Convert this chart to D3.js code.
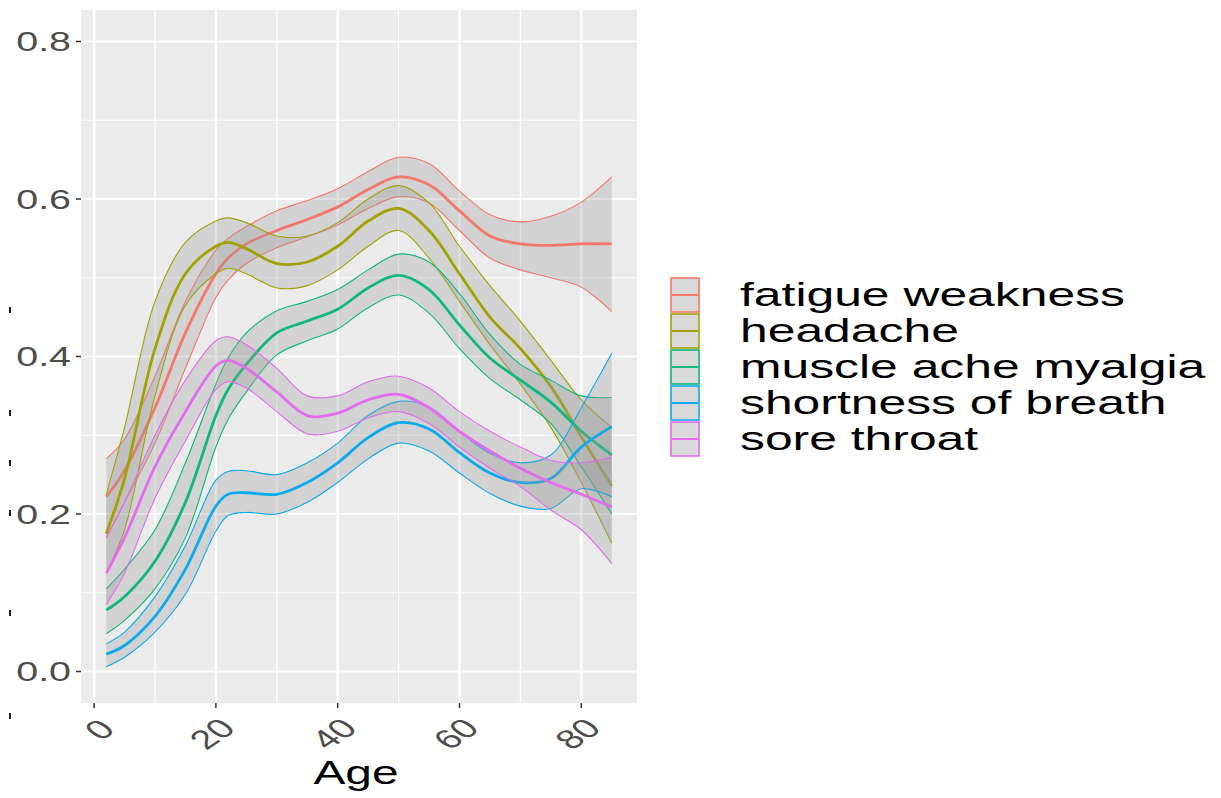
<!DOCTYPE html>
<html>
<head>
  <meta charset="utf-8">
  <title>Symptoms by age</title>
  <script src="https://cdn.jsdelivr.net/npm/d3@7"></script>
  <style>
    body { margin: 0; background: #ffffff; }
    text { font-family: "Liberation Sans", Arial, sans-serif; }
    .tick-label { fill: #4d4d4d; font-size: 27px; }
    .legend-label { fill: #000000; font-size: 33px; }
    .axis-title { fill: #000000; font-size: 33px; }
  </style>
</head>
<body>
<script>
// Symptom names and colours (ggplot hue palette)
var symptoms = ["fatigue weakness", "headache", "muscle ache myalgia", "shortness of breath", "sore throat"];
var colors = ["#F3776B", "#A0A200", "#0DB87B", "#0AAAEC", "#E26BEE"];

var ages = [2, 5, 10, 15, 20, 22, 25, 30, 35, 40, 45, 50, 55, 60, 65, 70, 75, 80, 85];

// Fitted value, upper and lower band for each symptom
var fatigueFit = [0.222, 0.255, 0.335, 0.43, 0.505, 0.525, 0.543, 0.56, 0.574, 0.59, 0.612, 0.628, 0.618, 0.585, 0.553, 0.543, 0.541, 0.543, 0.543];
var fatigueHi  = [0.27, 0.295, 0.375, 0.47, 0.535, 0.55, 0.565, 0.585, 0.598, 0.613, 0.635, 0.653, 0.645, 0.61, 0.58, 0.571, 0.578, 0.596, 0.628];
var fatigueLo  = [0.17, 0.215, 0.29, 0.385, 0.475, 0.497, 0.518, 0.538, 0.552, 0.567, 0.588, 0.603, 0.595, 0.56, 0.525, 0.51, 0.5, 0.488, 0.457];

var headacheFit = [0.175, 0.245, 0.41, 0.505, 0.54, 0.545, 0.537, 0.518, 0.52, 0.54, 0.572, 0.588, 0.56, 0.505, 0.45, 0.41, 0.362, 0.298, 0.236];
var headacheHi  = [0.225, 0.31, 0.47, 0.545, 0.572, 0.576, 0.57, 0.553, 0.553, 0.57, 0.6, 0.617, 0.595, 0.54, 0.49, 0.445, 0.395, 0.345, 0.31];
var headacheLo  = [0.125, 0.18, 0.35, 0.465, 0.505, 0.512, 0.505, 0.487, 0.49, 0.51, 0.54, 0.56, 0.525, 0.47, 0.415, 0.365, 0.31, 0.24, 0.163];

var muscleFit = [0.078, 0.095, 0.14, 0.215, 0.325, 0.358, 0.39, 0.43, 0.445, 0.46, 0.487, 0.503, 0.485, 0.44, 0.398, 0.37, 0.342, 0.305, 0.275];
var muscleHi  = [0.105, 0.13, 0.18, 0.265, 0.365, 0.398, 0.43, 0.458, 0.47, 0.485, 0.51, 0.53, 0.52, 0.48, 0.428, 0.39, 0.37, 0.35, 0.348];
var muscleLo  = [0.048, 0.065, 0.105, 0.17, 0.285, 0.32, 0.355, 0.402, 0.42, 0.435, 0.462, 0.478, 0.455, 0.41, 0.372, 0.345, 0.315, 0.26, 0.2];

var breathFit = [0.022, 0.033, 0.07, 0.13, 0.21, 0.225, 0.227, 0.225, 0.24, 0.265, 0.297, 0.316, 0.308, 0.278, 0.252, 0.24, 0.245, 0.285, 0.311];
var breathHi  = [0.035, 0.05, 0.095, 0.16, 0.243, 0.254, 0.255, 0.25, 0.265, 0.29, 0.325, 0.343, 0.336, 0.305, 0.277, 0.265, 0.275, 0.335, 0.404];
var breathLo  = [0.006, 0.018, 0.05, 0.098, 0.178, 0.198, 0.202, 0.2, 0.215, 0.24, 0.27, 0.29, 0.28, 0.252, 0.226, 0.21, 0.207, 0.232, 0.222];

var throatFit = [0.125, 0.17, 0.26, 0.33, 0.388, 0.395, 0.385, 0.355, 0.325, 0.328, 0.345, 0.352, 0.335, 0.305, 0.28, 0.258, 0.24, 0.225, 0.209];
var throatHi  = [0.17, 0.215, 0.3, 0.37, 0.42, 0.425, 0.415, 0.385, 0.35, 0.35, 0.368, 0.375, 0.36, 0.33, 0.305, 0.285, 0.268, 0.265, 0.272];
var throatLo  = [0.085, 0.125, 0.22, 0.293, 0.358, 0.368, 0.36, 0.33, 0.302, 0.305, 0.322, 0.33, 0.315, 0.285, 0.258, 0.235, 0.205, 0.18, 0.137];

var fits = [fatigueFit, headacheFit, muscleFit, breathFit, throatFit];
var highs = [fatigueHi, headacheHi, muscleHi, breathHi, throatHi];
var lows = [fatigueLo, headacheLo, muscleLo, breathLo, throatLo];

// Axis ticks
var xTicks = [0, 20, 40, 60, 80];
var xMinor = [10, 30, 50, 70];
var yTicks = [0, 0.2, 0.4, 0.6, 0.8];
var yMinor = [0.1, 0.3, 0.5, 0.7];

// The picture is stretched sideways, so text is widened too
var stretch = 1.46;

var svg = d3.select("body").append("svg")
    .attr("width", 1221)
    .attr("height", 798);

var panel = {left: 81, right: 637, top: 10, bottom: 703};

var x = d3.scaleLinear().domain([-2.15, 89.15]).range([panel.left, panel.right]);
var y = d3.scaleLinear().domain([-0.04, 0.84]).range([panel.bottom, panel.top]);

// Panel background and grid
svg.append("rect")
    .attr("x", panel.left).attr("y", panel.top)
    .attr("width", panel.right - panel.left)
    .attr("height", panel.bottom - panel.top)
    .attr("fill", "#ebebeb");

var grid = svg.append("g").attr("stroke", "#ffffff");
grid.selectAll(".ymin").data(yMinor).enter().append("line")
    .attr("x1", panel.left).attr("x2", panel.right)
    .attr("y1", d => y(d)).attr("y2", d => y(d))
    .attr("stroke-width", 1);
grid.selectAll(".xmin").data(xMinor).enter().append("line")
    .attr("y1", panel.top).attr("y2", panel.bottom)
    .attr("x1", d => x(d)).attr("x2", d => x(d))
    .attr("stroke-width", 1.2);
grid.selectAll(".ymaj").data(yTicks).enter().append("line")
    .attr("x1", panel.left).attr("x2", panel.right)
    .attr("y1", d => y(d)).attr("y2", d => y(d))
    .attr("stroke-width", 2);
grid.selectAll(".xmaj").data(xTicks).enter().append("line")
    .attr("y1", panel.top).attr("y2", panel.bottom)
    .attr("x1", d => x(d)).attr("x2", d => x(d))
    .attr("stroke-width", 2.4);

// Smooth curves with bands
var curve = d3.curveCatmullRom.alpha(0.5);
var area = d3.area()
    .x((d, i) => x(ages[i]))
    .y0(d => y(d[0]))
    .y1(d => y(d[1]))
    .curve(curve);
var line = d3.line()
    .x((d, i) => x(ages[i]))
    .y(d => y(d))
    .curve(curve);

symptoms.forEach(function(name, k) {
  var band = ages.map((a, i) => [lows[k][i], highs[k][i]]);
  var g = svg.append("g");
  g.append("path")
      .attr("d", area(band))
      .attr("fill", "#999999")
      .attr("fill-opacity", 0.3);
  [highs[k], lows[k]].forEach(function(edge) {
    g.append("path")
        .attr("d", line(edge))
        .attr("fill", "none")
        .attr("stroke", colors[k])
        .attr("stroke-width", 1.1);
  });
  g.append("path")
      .attr("d", line(fits[k]))
      .attr("fill", "none")
      .attr("stroke", colors[k])
      .attr("stroke-width", 2.8);
});

// Y axis
var yAxis = svg.append("g");
yAxis.selectAll("line").data(yTicks).enter().append("line")
    .attr("x1", panel.left - 5).attr("x2", panel.left)
    .attr("y1", d => y(d)).attr("y2", d => y(d))
    .attr("stroke", "#333333").attr("stroke-width", 1.5);
yAxis.selectAll("text").data(yTicks).enter().append("text")
    .attr("class", "tick-label")
    .attr("text-anchor", "end")
    .attr("dominant-baseline", "central")
    .attr("transform", d => "translate(" + (panel.left - 10) + "," + y(d) + ") scale(" + stretch + ",1)")
    .text(d => d.toFixed(1));

// X axis
var xAxis = svg.append("g");
xAxis.selectAll("line").data(xTicks).enter().append("line")
    .attr("x1", d => x(d)).attr("x2", d => x(d))
    .attr("y1", panel.bottom).attr("y2", panel.bottom + 5)
    .attr("stroke", "#333333").attr("stroke-width", 1.5);
xAxis.selectAll("text").data(xTicks).enter().append("text")
    .attr("class", "tick-label")
    .attr("text-anchor", "middle")
    .attr("dominant-baseline", "central")
    .attr("transform", function(d) {
      var w = String(d).length * 14.5;
      return "translate(" + (x(d) + 14 - 0.62 * w) + "," + (725 + 0.3 * w) + ") scale(" + stretch + ",1) rotate(-45)";
    })
    .text(d => d);

svg.append("text")
    .attr("class", "axis-title")
    .attr("text-anchor", "middle")
    .attr("transform", "translate(" + x(43) + ",784) scale(1.45,1)")
    .text("Age");

// Legend
var keyH = 36, keyW = 30, legTop = 277, legLeft = 670;
var legend = svg.append("g");
symptoms.forEach(function(name, k) {
  var top = legTop + k * keyH;
  legend.append("rect")
      .attr("x", legLeft + 1).attr("y", top + 1)
      .attr("width", keyW - 2).attr("height", keyH - 2)
      .attr("fill", "#d9d9d9")
      .attr("stroke", colors[k]).attr("stroke-width", 1.6);
  legend.append("line")
      .attr("x1", legLeft + 2).attr("x2", legLeft + keyW - 2)
      .attr("y1", top + keyH / 2).attr("y2", top + keyH / 2)
      .attr("stroke", colors[k]).attr("stroke-width", 2);
  legend.append("text")
      .attr("class", "legend-label")
      .attr("dominant-baseline", "central")
      .attr("transform", "translate(740," + (top + keyH / 2) + ") scale(1.51,1)")
      .text(name);
});

// Small marks left over at the left edge of the picture
svg.append("g").selectAll("rect").data([310, 413, 463, 513, 613, 716]).enter().append("rect")
    .attr("x", 9).attr("y", d => d - 3)
    .attr("width", 2).attr("height", 6)
    .attr("fill", "#222222");
</script>
</body>
</html>
